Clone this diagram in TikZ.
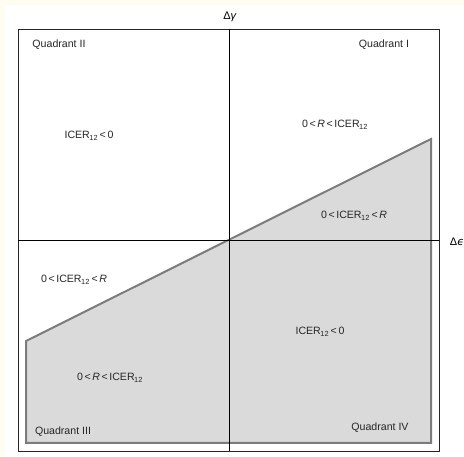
\documentclass[tikz,border=0pt]{standalone}
\usepackage{fontspec}
\setmainfont{Liberation Sans}
\newfontfamily\dejavu{DejaVu Sans}
\definecolor{cream}{HTML}{FFFDF0}
\definecolor{regiongray}{HTML}{DADADA}
\definecolor{edgegray}{HTML}{7C7C7C}
\newcommand{\sbt}{\textsubscript{\kern-0.5pt 12}}
\newcommand{\lt}{\kern1.6pt<\kern1.6pt}
\begin{document}
\begin{tikzpicture}[x=1pt,y=-1pt,
  lab/.style={font=\fontsize{10.6}{12}\selectfont, inner sep=0pt, text=black!85},
  axislab/.style={font=\fontsize{11}{13}\selectfont, inner sep=0pt},
  axisline/.style={draw=black, line width=0.8pt},
  frameline/.style={draw=black!85, line width=0.9pt},
  region/.style={fill=regiongray, draw=edgegray, line width=2pt, line join=miter}]
\useasboundingbox (0,0) rectangle (464,457);
\fill[cream] (0,0) rectangle (464,457);
\fill[white] (5,5) rectangle (464,457);
% shaded region
\path[region] (26,341) -- (431,139) -- (431,443) -- (26,443) -- cycle;
% frame
\draw[frameline] (18,29) rectangle (439,451);
% axes
\coordinate (ytop) at (229,29);
\coordinate (ybot) at (229,451);
\coordinate (xl) at (18,240);
\coordinate (xr) at (439,240);
\draw[axisline] (ytop) -- (ybot);
\draw[axisline] (xl) -- (xr);
\node[axislab] (dg) at (230,17) {Δ\textit{γ}};
\node[axislab] (de) at (457,242) {Δ{\dejavu\textit{ϵ}}};
% quadrant labels
\node[lab] (q2) at (59,45) {Quadrant II};
\node[lab] (q1) at (384,45) {Quadrant I};
\node[lab] (q3) at (63,432) {Quadrant III};
\node[lab] (q4) at (380,428) {Quadrant IV};
% region labels
\node[lab] (a) at (89,136) {ICER\sbt\lt 0};
\node[lab] (b) at (335,125) {0\lt\textit{R}\lt ICER\sbt};
\node[lab] (c) at (354,216) {0\lt ICER\sbt\lt\textit{R}};
\node[lab] (d) at (74,280) {0\lt ICER\sbt\lt\textit{R}};
\node[lab] (e) at (110,378) {0\lt\textit{R}\lt ICER\sbt};
\node[lab] (f) at (320,332) {ICER\sbt\lt 0};
\end{tikzpicture}
\end{document}
